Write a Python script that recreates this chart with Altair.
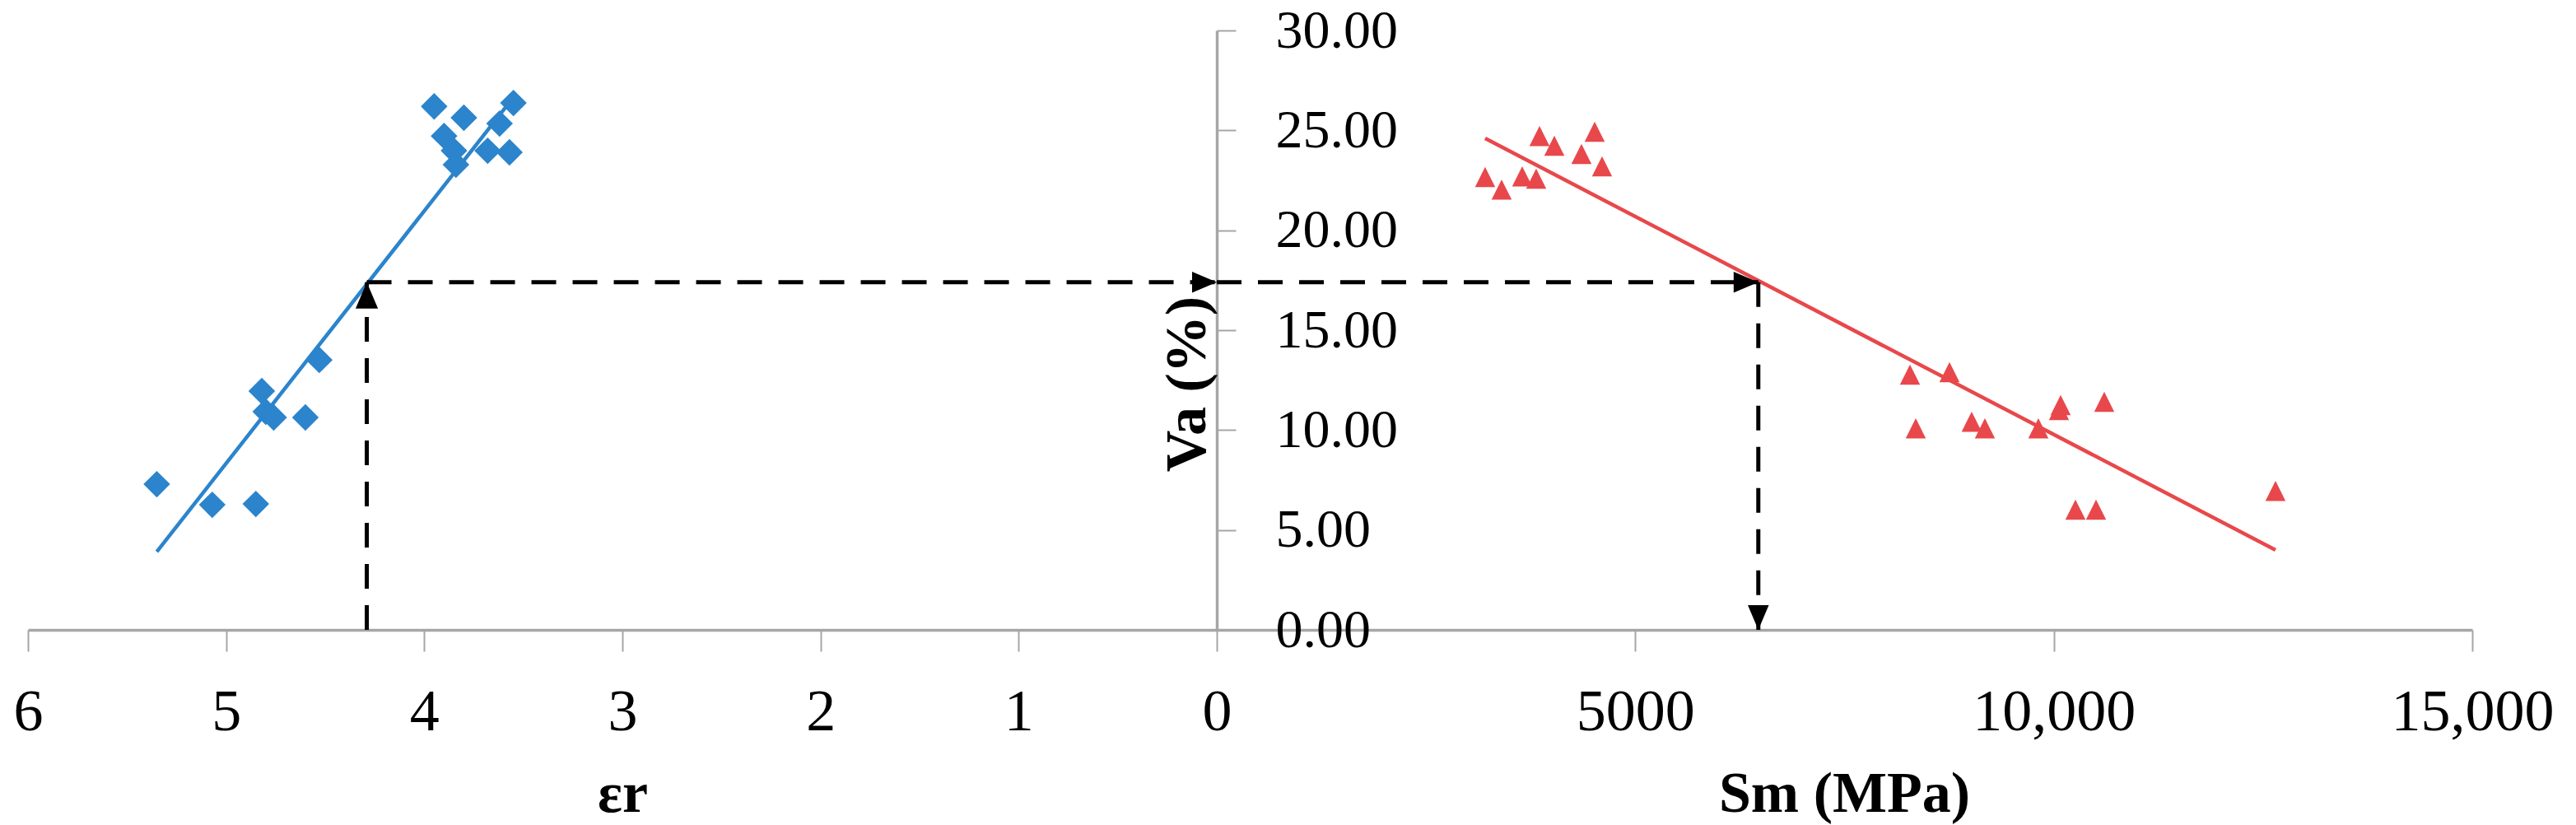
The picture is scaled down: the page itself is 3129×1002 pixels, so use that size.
import altair as alt
import pandas as pd

# ---------------- data ----------------
# Left panel: relaxation strain (εr) vs air voids Va (%)
er_values = [3.95, 3.80, 3.55, 3.62, 3.90, 3.85, 3.84, 3.68, 3.57,
             4.53, 4.82, 4.80, 4.76, 4.60, 5.35, 5.07, 4.85]
er_va = [26.20, 25.63, 26.37, 25.34, 24.72, 23.98, 23.28, 23.98, 23.90,
         13.51, 11.95, 10.92, 10.63, 10.63, 7.29, 6.26, 6.30]

# Right panel: stiffness modulus Sm (MPa) vs air voids Va (%)
sm_values = [3856, 4033, 4515, 4357, 4603, 3206, 3403, 3649, 3816,
             8282, 8754, 10082, 10062, 10603, 8351, 9019, 9177, 9816,
             10259, 10505, 12649]
sm_va = [24.72, 24.23, 24.93, 23.82, 23.20, 22.66, 22.04, 22.70, 22.58,
         12.77, 12.90, 11.25, 11.00, 11.41, 10.09, 10.42, 10.09, 10.09,
         6.02, 6.02, 6.95]

# Trend line end points
er_fit_x = [5.35, 3.57]
er_fit_va = [3.91, 26.40]
sm_fit_x = [3206, 12649]
sm_fit_va = [24.60, 4.00]

# Guide (dashed arrows)
guide_va = 17.4
guide_er = 4.29
guide_sm = 6470

er_ticks = [6, 5, 4, 3, 2, 1, 0]
sm_ticks = [5000, 10000, 15000]
va_ticks = [0, 5, 10, 15, 20, 25, 30]

# ---------------- layout ----------------
W_LEFT = 1444
W_RIGHT = 1525
H = 728
BLUE = "#2B84CC"
RED = "#E8484B"
GRAY = "#A6A6A6"
FONT = "Liberation Serif"

y_scale = alt.Scale(domain=[0, 30], nice=False, zero=False)
y_axis = alt.Axis(orient="right", offset=-W_RIGHT, values=va_ticks, format=".2f",
                  title="Va (%)", titleX=-36, titleY=429, titleAngle=270,
                  titleAlign="center", titleBaseline="middle",
                  tickSize=23, labelPadding=48, labelAlign="left",
                  labelBaseline="middle", labelFontSize=66, labelFlush=False,
                  labelOverlap=False, grid=False)

xl_scale = alt.Scale(domain=[-6 * W_RIGHT / W_LEFT, 6], reverse=True, nice=False, zero=False)
xl_axis = alt.Axis(orient="bottom", values=er_ticks, format="d", title="εr",
                   titleX=722, titleY=220, titleBaseline="alphabetic", titleAlign="center",
                   tickSize=26, labelPadding=38, labelFontSize=72,
                   labelFlush=False, labelOverlap=False, grid=False)

xr_scale = alt.Scale(domain=[-15000 * W_LEFT / W_RIGHT, 15000], nice=False, zero=False)
xr_axis = alt.Axis(orient="bottom", values=sm_ticks,
                   labelExpr="datum.value >= 10000 ? format(datum.value, ',') : format(datum.value, 'd')",
                   title="Sm (MPa)", titleX=2206, titleY=220, titleBaseline="alphabetic",
                   titleAlign="center", tickSize=26, labelPadding=38, labelFontSize=72,
                   labelFlush=False, labelOverlap=False, grid=False, domain=False)


def XL(f):
    return alt.X(f, scale=xl_scale, axis=xl_axis)


def XR(f):
    return alt.X(f, scale=xr_scale, axis=xr_axis)


def Y(f):
    return alt.Y(f, scale=y_scale, axis=y_axis)


dash = dict(color="black", strokeWidth=5, strokeDash=[30, 20])
ARROW_UP = "M0,0L-0.85,2L0.85,2Z"
ARROW_RIGHT = "M0,0L-2,-0.85L-2,0.85Z"
ARROW_DOWN = "M0,0L-0.85,-2L0.85,-2Z"
TRI = "M0,-1L1,1L-1,1Z"

blue_df = pd.DataFrame({"er": er_values, "va": er_va})
red_df = pd.DataFrame({"sm": sm_values, "va": sm_va})
blue_fit = pd.DataFrame({"er": er_fit_x, "va": er_fit_va})
red_fit = pd.DataFrame({"sm": sm_fit_x, "va": sm_fit_va})

blue_pts = alt.Chart(blue_df).mark_point(shape="diamond", filled=True, size=1050,
                                         color=BLUE, opacity=1).encode(x=XL("er:Q"), y=Y("va:Q"))
blue_line = alt.Chart(blue_fit).mark_line(color=BLUE, strokeWidth=4.5).encode(x=XL("er:Q"), y=Y("va:Q"))

left_v = alt.Chart(pd.DataFrame({"er": [guide_er], "v0": [0], "v1": [guide_va]})).mark_rule(**dash).encode(
    x=XL("er:Q"), y=Y("v0:Q"), y2="v1:Q")
left_h = alt.Chart(pd.DataFrame({"e0": [guide_er], "e1": [0], "v": [guide_va]})).mark_rule(**dash).encode(
    x=XL("e0:Q"), x2="e1:Q", y=Y("v:Q"))
up_arrow = alt.Chart(pd.DataFrame({"er": [guide_er], "v": [guide_va]})).mark_point(
    shape=ARROW_UP, filled=True, size=1024, color="black", opacity=1).encode(x=XL("er:Q"), y=Y("v:Q"))
axis_arrow = alt.Chart(pd.DataFrame({"er": [0], "v": [guide_va]})).mark_point(
    shape=ARROW_RIGHT, filled=True, size=900, color="black", opacity=1).encode(x=XL("er:Q"), y=Y("v:Q"))

red_pts = alt.Chart(red_df).mark_point(shape=TRI, filled=True, size=600,
                                       color=RED, opacity=1).encode(x=XR("sm:Q"), y=Y("va:Q"))
red_line = alt.Chart(red_fit).mark_line(color=RED, strokeWidth=4.5).encode(x=XR("sm:Q"), y=Y("va:Q"))
right_h = alt.Chart(pd.DataFrame({"s0": [0], "s1": [guide_sm], "v": [guide_va]})).mark_rule(**dash).encode(
    x=XR("s0:Q"), x2="s1:Q", y=Y("v:Q"))
right_v = alt.Chart(pd.DataFrame({"sm": [guide_sm], "v0": [guide_va], "v1": [0]})).mark_rule(**dash).encode(
    x=XR("sm:Q"), y=Y("v0:Q"), y2="v1:Q")
line_arrow = alt.Chart(pd.DataFrame({"sm": [guide_sm], "v": [guide_va]})).mark_point(
    shape=ARROW_RIGHT, filled=True, size=900, color="black", opacity=1).encode(x=XR("sm:Q"), y=Y("v:Q"))
down_arrow = alt.Chart(pd.DataFrame({"sm": [guide_sm], "v": [0]})).mark_point(
    shape=ARROW_DOWN, filled=True, size=900, color="black", opacity=1).encode(x=XR("sm:Q"), y=Y("v:Q"))

left = alt.layer(blue_pts, blue_line, left_v, left_h, up_arrow, axis_arrow)
right = alt.layer(red_pts, red_line, right_h, right_v, line_arrow, down_arrow)

chart = alt.layer(left, right).resolve_scale(x="independent").resolve_axis(x="independent").properties(
    width=W_LEFT + W_RIGHT,
    height=H,
    autosize=alt.AutoSizeParams(type="none"),
    padding={"left": 26, "top": 29, "right": 116, "bottom": 236},
    background="white",
).configure_view(stroke=None).configure_axis(
    labelFont=FONT, titleFont=FONT, labelColor="black", titleColor="black",
    titleFontSize=70, titleFontWeight="bold", labelLimit=0,
    domainColor=GRAY, domainWidth=3.5, tickColor=GRAY, tickWidth=2,
)

chart.save("out.html", embed_options={"renderer": "svg", "actions": False})
